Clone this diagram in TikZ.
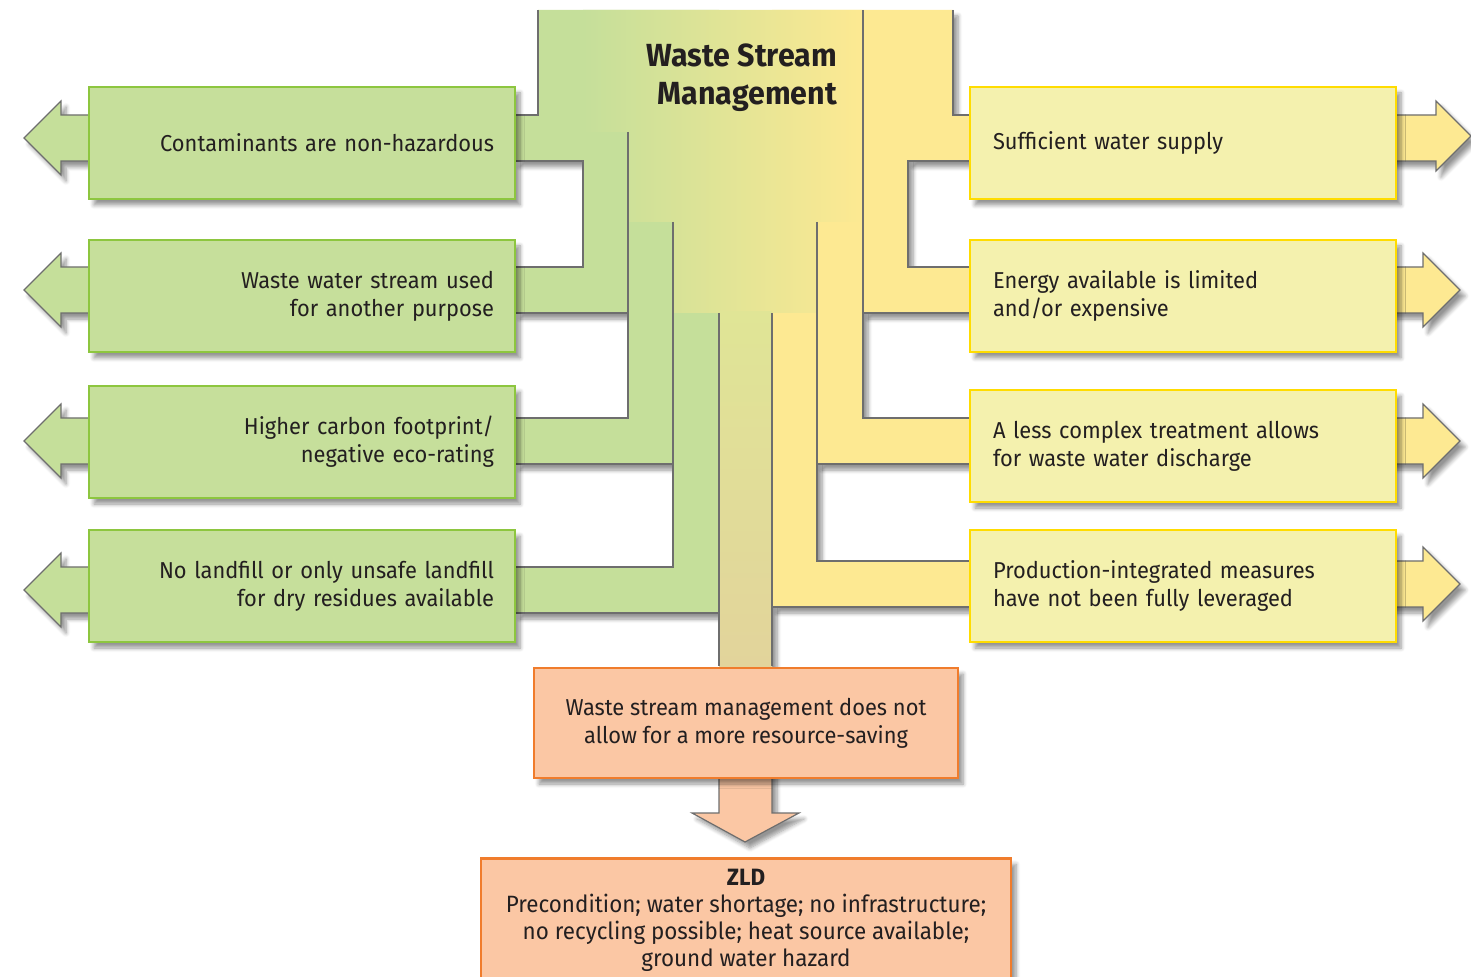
\documentclass[tikz,border=0pt]{standalone}
\usepackage{fontspec}
\setmainfont{Fira Sans}[FakeStretch=0.95]
\usepackage{xcolor}
\usepackage{tikz}
\usetikzlibrary{shadows,shadows.blur}

\definecolor{pipegreen}{HTML}{C5DF9A}
\definecolor{boxgreen}{HTML}{C6DF9B}
\definecolor{edgegreen}{HTML}{8DC63F}
\definecolor{pipeyellow}{HTML}{FDE992}
\definecolor{boxyellow}{HTML}{F4F1AE}
\definecolor{edgeyellow}{HTML}{FFDC00}
\definecolor{boxorange}{HTML}{FBC7A4}
\definecolor{edgeorange}{HTML}{F07C2C}
\definecolor{linegrey}{HTML}{6E6E6E}
\definecolor{textdark}{HTML}{231F20}
\definecolor{trunkmid}{HTML}{E0E596}
\definecolor{trunkbottom}{HTML}{E2D49B}

\tikzset{
	softshadow/.style={blur shadow={shadow xshift=2.5pt, shadow yshift=-3pt, shadow blur steps=6, shadow opacity=42}},
	basebox/.style={draw, line width=1.4pt, minimum height=56pt, text=textdark,
		font=\fontsize{11.5}{14}\selectfont, softshadow},
	gbox/.style={basebox, draw=edgegreen, fill=boxgreen, text width=192pt, align=right, inner xsep=10.5pt, minimum width=213pt},
	ybox/.style={basebox, draw=edgeyellow, fill=boxyellow, text width=190pt, align=left, inner xsep=11.5pt, minimum width=213pt},
	obox/.style={basebox, draw=edgeorange, fill=boxorange, align=center},
	pipeedge/.style={draw=linegrey, line width=0.6pt},
}

\begin{document}
\begin{tikzpicture}[x=0.5pt, y=-0.5pt]
		\useasboundingbox (0,0) rectangle (1471,977);
		% shadows of the pipes
		\foreach \a/\b/\t/\u in {538/583/115/161, 583/628/267/313, 628/673/418/464, 673/719/567/613}
			\path[softshadow] (\a,10) -- (\b,10) -- (\b,\u) -- (515,\u) -- (515,\t) -- (\a,\t) -- cycle;
		\foreach \a/\b/\t/\u in {772/817/561/607, 817/863/418/464, 863/908/267/313, 908/953/115/161}
			\path[softshadow] (\a,10) -- (\b,10) -- (\b,\t) -- (971,\t) -- (971,\u) -- (\a,\u) -- cycle;
		\path[softshadow] (719,10) rectangle (772,666);
		% green and yellow pipes
		\foreach \a/\b/\t/\u in {538/583/115/161, 583/628/267/313, 628/673/418/464, 673/719/567/613}
			\fill[pipegreen] (\a,10) -- (\b,10) -- (\b,\u) -- (515,\u) -- (515,\t) -- (\a,\t) -- cycle;
		\foreach \a/\b/\t/\u in {772/817/561/607, 817/863/418/464, 863/908/267/313, 908/953/115/161}
			\fill[pipeyellow] (\a,10) -- (\b,10) -- (\b,\t) -- (971,\t) -- (971,\u) -- (\a,\u) -- cycle;
		% trunk
		\shade[left color=pipegreen, right color=pipeyellow] (583,10) -- (863,10) -- (863,222) -- (817,222) -- (817,313) -- (772,313) -- (719,313) -- (673,313) -- (673,222) -- (628,222) -- (628,132) -- (583,132) -- cycle;
		\shade[top color=trunkmid, bottom color=trunkbottom] (719,312) rectangle (772,666);
		% pipe edges
		\draw[pipeedge] (538,10) -- (538,115) -- (515,115);
		\draw[pipeedge] (515,161) -- (583,161) -- (583,267) -- (515,267);
		\draw[pipeedge] (515,313) -- (628,313);
		\draw[pipeedge] (628,132) -- (628,418) -- (515,418);
		\draw[pipeedge] (515,464) -- (673,464);
		\draw[pipeedge] (673,222) -- (673,567) -- (515,567);
		\draw[pipeedge] (515,613) -- (719,613);
		\draw[pipeedge] (719,313) -- (719,666);
		\draw[pipeedge] (772,313) -- (772,666);
		\draw[pipeedge] (772,607) -- (971,607);
		\draw[pipeedge] (817,222) -- (817,561) -- (971,561);
		\draw[pipeedge] (817,464) -- (971,464);
		\draw[pipeedge] (863,10) -- (863,418) -- (971,418);
		\draw[pipeedge] (863,313) -- (971,313);
		\draw[pipeedge] (971,161) -- (908,161) -- (908,267) -- (971,267);
		\draw[pipeedge] (953,10) -- (953,115) -- (971,115);
		% arrow heads
		\foreach \yy in {138,290,441,590}
			\draw[pipeedge, fill=pipegreen, softshadow] (100,\yy-23) -- (61,\yy-23) -- (61,\yy-37) -- (24,\yy) -- (61,\yy+37) -- (61,\yy+23) -- (100,\yy+23);
		\draw[pipeedge, fill=pipeyellow, softshadow] (1385,115) -- (1436,115) -- (1436,101) -- (1471,136) -- (1436,171) -- (1436,161) -- (1385,161);
		\foreach \yy in {290,441,584}
			\draw[pipeedge, fill=pipeyellow, softshadow] (1385,\yy-23) -- (1423,\yy-23) -- (1423,\yy-37) -- (1460,\yy) -- (1423,\yy+37) -- (1423,\yy+23) -- (1385,\yy+23);
		\draw[pipeedge, fill=boxorange, softshadow] (719,770) -- (719,813) -- (692,813) -- (745,842) -- (799,813) -- (772,813) -- (772,770);
		% boxes
		\node[gbox] (cont) at (302,143) {Contaminants are non-hazardous};
		\node[gbox] (reuse) at (302,296) {Waste water stream used\hspace*{3pt}\\for another purpose};
		\node[gbox] (carbon) at (302,442) {Higher carbon footprint/\\negative eco-rating};
		\node[gbox] (landfill) at (302,586) {No landfill or only unsafe landfill\hspace*{3pt}\\for dry residues available};
		\node[ybox] (water) at (1183,143) {Sufficient water supply};
		\node[ybox] (energy) at (1183,296) {Energy available is limited\\and/or expensive};
		\node[ybox] (simple) at (1183,446) {A less complex treatment allows\\for waste water discharge};
		\node[ybox] (measures) at (1183,586) {Production-integrated measures\\have not been fully leveraged};
		\node[obox, minimum width=212pt, minimum height=55pt] (nosaving) at (746,723) {Waste stream management does not\\allow for a more resource-saving};
		\node[obox, minimum width=265pt, anchor=north, inner ysep=3pt, minimum height=62pt, font=\fontsize{11.8}{13.5}\selectfont] (zld) at (746,857) {\textbf{ZLD}\\Precondition; water shortage; no infrastructure;\\no recycling possible; heat source available;\\ground water hazard};
		\node[text=textdark, font=\bfseries\fontsize{16}{19}\selectfont, align=right, anchor=east] (title) at (844,78) {Waste Stream\\Management};
	\end{tikzpicture}
\end{document}
